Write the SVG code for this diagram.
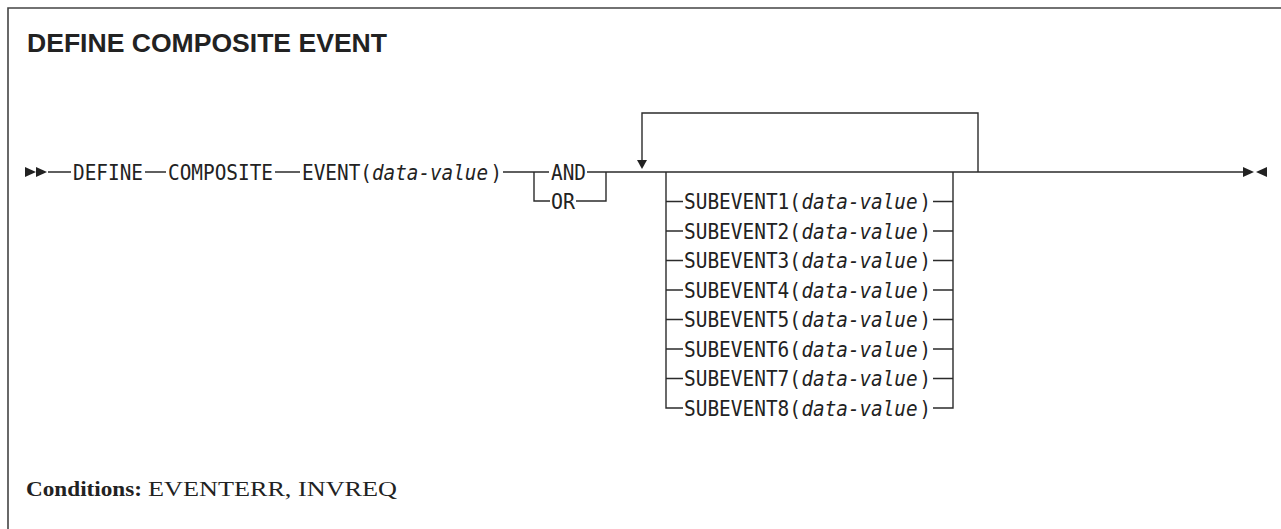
<svg xmlns="http://www.w3.org/2000/svg" width="1281" height="529" viewBox="0 0 1281 529">
<style>
.ln{fill:none;stroke:#2b2b2b;stroke-width:1.4}
.fr{fill:none;stroke:#444;stroke-width:1.6}
.t{font-family:"DejaVu Sans Mono","Liberation Mono",monospace;font-size:21.5px;fill:#222}
.i{font-style:italic}
.ttl{font-family:"Liberation Sans",Arial,sans-serif;font-weight:bold;font-size:25px;fill:#222}
.cnd{font-family:"Liberation Serif","Times New Roman",serif;font-size:21px;fill:#222}
.ah{fill:#222}
</style>
<defs>
<g id="row">
<text class="t" x="801.5" y="0" textLength="116" lengthAdjust="spacingAndGlyphs" font-style="italic">data-value</text>
<text class="t" x="919.5" y="0" textLength="11.5" lengthAdjust="spacingAndGlyphs">)</text>
</g>
</defs>
<rect width="1281" height="529" fill="#fff"/>
<path class="fr" d="M8,529 V8 H1281"/>
<g id="title"><text class="ttl" x="27" y="52" textLength="360" lengthAdjust="spacingAndGlyphs">DEFINE COMPOSITE EVENT</text></g>
<g id="connectors">
<path class="ln" d="M48,172 H71 M145,172 H166 M275,172 H300 M503,172 H549 M587,172 H1243"/>
<path class="ln" d="M534,172 V201 H550 M576,201 H606 V172"/>
<path class="ln" d="M978,172 V113 H642 V161"/>
<path class="ln" d="M666,172 V408 H683 M953,172 V408 H933"/>
<path class="ln" d="M666,201.5 H683 M666,231 H683 M666,260.5 H683 M666,290 H683 M666,319.5 H683 M666,349 H683 M666,378.5 H683 M933,201.5 H953 M933,231 H953 M933,260.5 H953 M933,290 H953 M933,319.5 H953 M933,349 H953 M933,378.5 H953"/>
<polygon class="ah" points="637,160 647,160 642,169"/>
<polygon class="ah" points="25,167 36,172 25,177"/>
<polygon class="ah" points="36,167 47,172 36,177"/>
<polygon class="ah" points="1243,167 1254,172 1243,177"/>
<polygon class="ah" points="1267,167 1256,172 1267,177"/>
</g>
<g id="define"><text class="t" x="73" y="179.5" textLength="70" lengthAdjust="spacingAndGlyphs">DEFINE</text></g>
<g id="composite"><text class="t" x="168" y="179.5" textLength="105" lengthAdjust="spacingAndGlyphs">COMPOSITE</text></g>
<g id="event"><text class="t" x="302" y="179.5" textLength="70" lengthAdjust="spacingAndGlyphs">EVENT(</text><text class="t i" x="372" y="179.5" textLength="116" lengthAdjust="spacingAndGlyphs">data-value</text><text class="t" x="490.5" y="179.5" textLength="11.5" lengthAdjust="spacingAndGlyphs">)</text></g>
<g id="and"><text class="t" x="551" y="179.5" textLength="35" lengthAdjust="spacingAndGlyphs">AND</text></g>
<g id="or"><text class="t" x="551" y="209" textLength="24" lengthAdjust="spacingAndGlyphs">OR</text></g>
<g id="sub1"><text class="t" x="684" y="209" textLength="117" lengthAdjust="spacingAndGlyphs">SUBEVENT1(</text><use href="#row" y="209"/></g>
<g id="sub2"><text class="t" x="684" y="238.5" textLength="117" lengthAdjust="spacingAndGlyphs">SUBEVENT2(</text><use href="#row" y="238.5"/></g>
<g id="sub3"><text class="t" x="684" y="268" textLength="117" lengthAdjust="spacingAndGlyphs">SUBEVENT3(</text><use href="#row" y="268"/></g>
<g id="sub4"><text class="t" x="684" y="297.5" textLength="117" lengthAdjust="spacingAndGlyphs">SUBEVENT4(</text><use href="#row" y="297.5"/></g>
<g id="sub5"><text class="t" x="684" y="327" textLength="117" lengthAdjust="spacingAndGlyphs">SUBEVENT5(</text><use href="#row" y="327"/></g>
<g id="sub6"><text class="t" x="684" y="356.5" textLength="117" lengthAdjust="spacingAndGlyphs">SUBEVENT6(</text><use href="#row" y="356.5"/></g>
<g id="sub7"><text class="t" x="684" y="386" textLength="117" lengthAdjust="spacingAndGlyphs">SUBEVENT7(</text><use href="#row" y="386"/></g>
<g id="sub8"><text class="t" x="684" y="415.5" textLength="117" lengthAdjust="spacingAndGlyphs">SUBEVENT8(</text><use href="#row" y="415.5"/></g>
<g id="conditions"><text class="cnd" x="26" y="496" font-weight="bold" textLength="116" lengthAdjust="spacingAndGlyphs">Conditions:</text><text class="cnd" x="148" y="496" textLength="249" lengthAdjust="spacingAndGlyphs">EVENTERR, INVREQ</text></g>
</svg>
